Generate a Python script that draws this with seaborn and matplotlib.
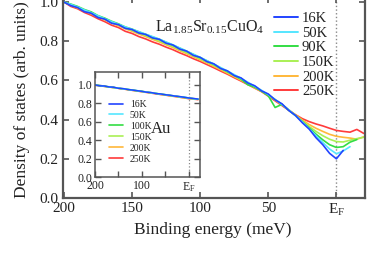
import matplotlib
matplotlib.use("Agg")
import matplotlib.pyplot as plt
import seaborn as sns
import pandas as pd
from matplotlib.lines import Line2D

sns.set_theme(style="ticks")
plt.rcParams["font.family"] = ["Liberation Serif", "DejaVu Serif"]
plt.rcParams["mathtext.fontset"] = "custom"
plt.rcParams["mathtext.rm"] = "Liberation Serif"
plt.rcParams["mathtext.it"] = "Liberation Serif:italic"

# ---------------- data ----------------
energy = [200, 195, 190, 185, 180, 175, 170, 165, 160, 155, 150, 145, 140, 135, 130,
          125, 120, 115, 110, 105, 100, 95, 90, 85, 80, 75, 70, 65, 60, 55, 50, 45,
          40, 35, 30, 25, 20, 15, 10, 5, 0, -5, -10, -15, -20]

main_labels = ["16K", "50K", "90K", "150K", "200K", "250K"]
colors = ["#2244ff", "#55e6ff", "#33dd44", "#aaf055", "#ffb83a", "#ff3b3b"]

dos_16K = [1.000, 0.982, 0.972, 0.951, 0.943, 0.921, 0.913, 0.892, 0.885, 0.866, 0.860, 0.842,
           0.835, 0.817, 0.810, 0.790, 0.781, 0.760, 0.750, 0.728, 0.718, 0.696, 0.685, 0.661,
           0.649, 0.625, 0.613, 0.587, 0.573, 0.547, 0.531, 0.501, 0.481, 0.447, 0.421, 0.384,
           0.352, 0.308, 0.272, 0.228, 0.200, 0.243]
dos_50K = [1.000, 0.988, 0.975, 0.960, 0.946, 0.930, 0.915, 0.900, 0.887, 0.873, 0.861, 0.849,
           0.836, 0.824, 0.811, 0.796, 0.782, 0.766, 0.750, 0.734, 0.718, 0.701, 0.684, 0.666,
           0.648, 0.630, 0.611, 0.591, 0.571, 0.550, 0.528, 0.503, 0.478, 0.450, 0.420, 0.388,
           0.354, 0.318, 0.283, 0.250, 0.226, 0.240, 0.262]
dos_90K = [1.000, 0.990, 0.978, 0.962, 0.950, 0.931, 0.918, 0.902, 0.889, 0.873, 0.862, 0.848,
           0.835, 0.822, 0.810, 0.795, 0.780, 0.765, 0.749, 0.733, 0.716, 0.700, 0.682, 0.664,
           0.645, 0.626, 0.607, 0.578, 0.566, 0.546, 0.522, 0.462, 0.478, 0.448, 0.421, 0.390,
           0.358, 0.326, 0.297, 0.272, 0.258, 0.262, 0.285, 0.298]
dos_150K = [1.000, 0.986, 0.974, 0.958, 0.945, 0.928, 0.914, 0.897, 0.884, 0.868, 0.856, 0.842,
            0.829, 0.815, 0.802, 0.787, 0.773, 0.757, 0.742, 0.726, 0.710, 0.694, 0.677, 0.660,
            0.642, 0.624, 0.605, 0.586, 0.566, 0.546, 0.526, 0.503, 0.478, 0.450, 0.421, 0.392,
            0.365, 0.340, 0.318, 0.300, 0.288, 0.286, 0.295, 0.303, 0.310]
dos_200K = [1.000, 0.984, 0.970, 0.955, 0.940, 0.924, 0.909, 0.893, 0.879, 0.864, 0.851, 0.837,
            0.824, 0.810, 0.797, 0.782, 0.768, 0.752, 0.737, 0.721, 0.705, 0.689, 0.672, 0.655,
            0.637, 0.619, 0.601, 0.583, 0.563, 0.544, 0.524, 0.500, 0.476, 0.450, 0.424, 0.398,
            0.375, 0.356, 0.340, 0.325, 0.315, 0.310, 0.306, 0.300, 0.312]
dos_250K = [1.000, 0.978, 0.966, 0.947, 0.933, 0.915, 0.900, 0.882, 0.870, 0.851, 0.840, 0.824,
            0.812, 0.797, 0.785, 0.770, 0.757, 0.741, 0.727, 0.711, 0.697, 0.681, 0.665, 0.648,
            0.632, 0.614, 0.597, 0.579, 0.561, 0.543, 0.520, 0.496, 0.472, 0.448, 0.425, 0.405,
            0.390, 0.378, 0.368, 0.356, 0.345, 0.340, 0.336, 0.350, 0.330]
main_series = [dos_16K, dos_50K, dos_90K, dos_150K, dos_200K, dos_250K]

# Au reference (inset)
energy_au = [200, 190, 180, 170, 160, 150, 140, 130, 120, 110, 100, 90, 80, 70, 60, 50,
             40, 30, 20, 10, 0, -10, -20]
au_labels = ["16K", "50K", "100K", "150K", "200K", "250K"]
au_16K = [1.000, 0.990, 0.988, 0.978, 0.975, 0.963, 0.960, 0.950, 0.944, 0.937, 0.930, 0.921,
          0.917, 0.906, 0.902, 0.893, 0.888, 0.879, 0.874, 0.866, 0.858, 0.853, 0.846]
au_50K = [0.998, 0.993, 0.985, 0.980, 0.971, 0.966, 0.957, 0.952, 0.942, 0.938, 0.928, 0.924,
          0.914, 0.909, 0.899, 0.895, 0.885, 0.881, 0.871, 0.868, 0.856, 0.850, 0.848]
au_100K = [1.002, 0.991, 0.987, 0.977, 0.973, 0.964, 0.958, 0.951, 0.945, 0.936, 0.931, 0.922,
           0.915, 0.908, 0.900, 0.894, 0.886, 0.880, 0.872, 0.865, 0.859, 0.851, 0.845]
au_150K = [0.999, 0.992, 0.984, 0.979, 0.970, 0.965, 0.956, 0.950, 0.943, 0.935, 0.929, 0.921,
           0.914, 0.907, 0.899, 0.893, 0.884, 0.878, 0.870, 0.863, 0.855, 0.849, 0.844]
au_200K = [1.001, 0.990, 0.986, 0.976, 0.972, 0.962, 0.957, 0.949, 0.941, 0.935, 0.927, 0.920,
           0.912, 0.906, 0.897, 0.891, 0.883, 0.876, 0.868, 0.861, 0.853, 0.847, 0.842]
au_250K = [0.998, 0.991, 0.983, 0.977, 0.969, 0.963, 0.955, 0.948, 0.940, 0.933, 0.925, 0.918,
           0.910, 0.903, 0.895, 0.889, 0.880, 0.874, 0.866, 0.859, 0.850, 0.845, 0.840]
au_series = [au_16K, au_50K, au_100K, au_150K, au_200K, au_250K]

xtick_vals = [200, 150, 100, 50, 0]
xtick_labels = ["200", "150", "100", "50", r"E$_{\rm F}$"]
ytick_vals = [0.0, 0.2, 0.4, 0.6, 0.8, 1.0]
inset_xtick_vals = [200, 100, 0]
inset_xtick_labels = ["200", "100", r"E$_{\rm F}$"]
inset_minor = [150, 50]

# ---------------- figure ----------------
W, H = 382, 265
fig = plt.figure(figsize=(W / 100, H / 100), dpi=100)
ax = fig.add_axes([63 / W, 1 - 198 / H, (365 - 63) / W, 201 / H])

spine_c = "#555555"
text_c = "#222222"

for lab, col, ys in reversed(list(zip(main_labels, colors, main_series))):
    df = pd.DataFrame({"E": energy[:len(ys)], "D": ys})
    sns.lineplot(data=df, x="E", y="D", ax=ax, color=col, lw=1.2, sort=False,
                 legend=False, estimator=None)

ax.axvline(0, color="#888888", ls=":", lw=1.0, zorder=0)
ax.set_xlim(200.7, -21)
ax.set_ylim(0, 1.026)
ax.set_xticks(xtick_vals)
ax.set_xticklabels(xtick_labels)
ax.set_yticks(ytick_vals)
ax.set_yticklabels([f"{v:.1f}" for v in ytick_vals])
ax.tick_params(direction="in", top=True, right=True, length=4, width=1.2,
               labelsize=11, colors=spine_c, labelcolor=text_c, pad=3)
for s in ax.spines.values():
    s.set_color(spine_c)
    s.set_linewidth(1.6)
ax.set_xlabel("Binding energy (meV)", fontsize=12.5, color=text_c)
ax.set_ylabel("Density of states (arb. units)", fontsize=12.5, color=text_c)
ax.xaxis.set_label_coords(0.497, -0.118)
ax.yaxis.set_label_coords(-0.11, 0.49)

handles = [Line2D([], [], color=c, lw=1.4) for c in colors]
leg = ax.legend(handles, main_labels, loc="upper right", bbox_to_anchor=(0.918, 0.955),
                frameon=False, fontsize=10.5, handlelength=1.6, handletextpad=0.3,
                labelspacing=0.1, borderaxespad=0.0)
for t in leg.get_texts():
    t.set_color(text_c)

ax.text(0.305, 0.85, r"La$_{1.85}$Sr$_{0.15}$CuO$_4$", transform=ax.transAxes,
        fontsize=11.5, color=text_c, ha="left", va="center")

# ---------------- inset ----------------
ix = fig.add_axes([95 / W, 1 - 177 / H, (200 - 95) / W, (177 - 72) / H])
for lab, col, ys in reversed(list(zip(au_labels, colors, au_series))):
    df = pd.DataFrame({"E": energy_au[:len(ys)], "D": ys})
    sns.lineplot(data=df, x="E", y="D", ax=ix, color=col, lw=1.1, sort=False,
                 legend=False, estimator=None)
ix.axvline(0, color="#888888", ls=":", lw=0.9, zorder=0)
ix.set_xlim(200, -24)
ix.set_ylim(0, 1.14)
ix.set_xticks(inset_xtick_vals)
ix.set_xticklabels(inset_xtick_labels)
ix.set_xticks(inset_minor, minor=True)
ix.set_yticks(ytick_vals)
ix.set_yticklabels([f"{v:.1f}" for v in ytick_vals])
ix.tick_params(which="both", direction="in", top=True, right=True, length=4, width=1,
               labelsize=8.5, colors=spine_c, labelcolor=text_c, pad=2)
ix.set_xlabel("")
ix.set_ylabel("")
for s in ix.spines.values():
    s.set_color(spine_c)
    s.set_linewidth(1.1)
ih = [Line2D([], [], color=c, lw=1.2) for c in colors]
ileg = ix.legend(ih, au_labels, loc="lower left", bbox_to_anchor=(0.1, 0.09),
                 frameon=False, fontsize=7, handlelength=1.4, handletextpad=0.7,
                 labelspacing=0.2, borderaxespad=0.0)
for t in ileg.get_texts():
    t.set_color(text_c)
ix.text(0.53, 0.46, "Au", transform=ix.transAxes, fontsize=12, color=text_c,
        ha="left", va="center")

fig.savefig("out.png", dpi=100)
